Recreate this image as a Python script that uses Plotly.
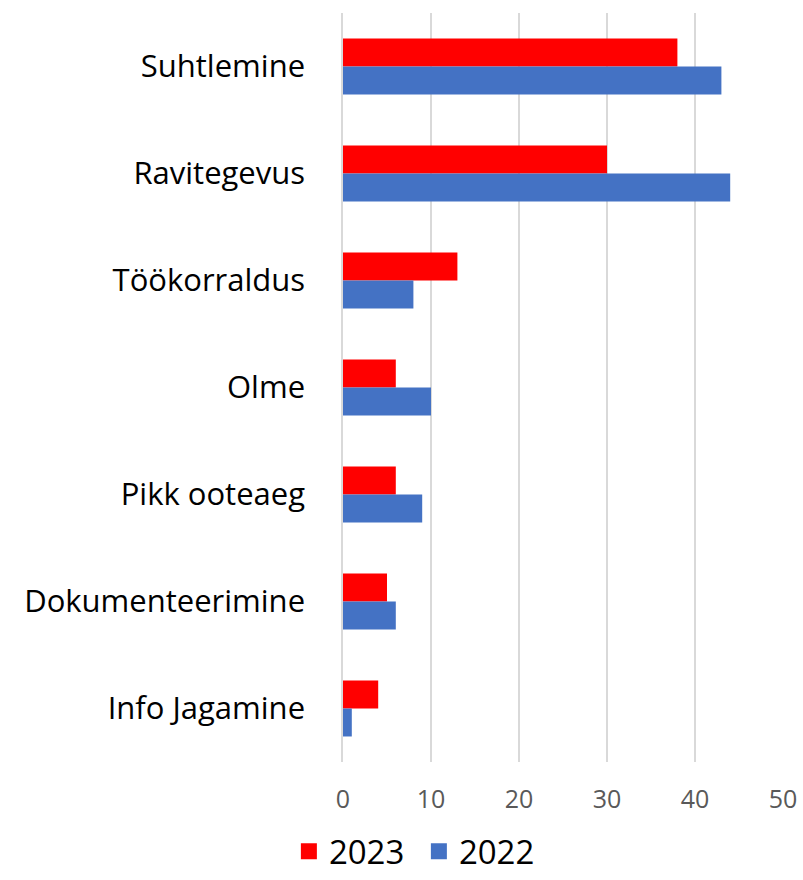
import plotly.graph_objects as go

categories = ["Suhtlemine", "Ravitegevus", "Töökorraldus", "Olme", "Pikk ooteaeg", "Dokumenteerimine", "Info Jagamine"]
values_2023 = [38, 30, 13, 6, 6, 5, 4]
values_2022 = [43, 44, 8, 10, 9, 6, 1]
tick_vals = [0, 10, 20, 30, 40, 50]

RED = "#FF0000"
BLUE = "#4472C4"
FONT = "Open Sans, sans-serif"

fig = go.Figure()
fig.add_trace(go.Bar(y=categories, x=values_2023, orientation="h", name="2023",
                     marker=dict(color=RED, line=dict(width=0)), showlegend=False))
fig.add_trace(go.Bar(y=categories, x=values_2022, orientation="h", name="2022",
                     marker=dict(color=BLUE, line=dict(width=0)), showlegend=False))
# legend entries
fig.add_trace(go.Scatter(x=[None], y=[None], mode="markers", name="2023",
                         marker=dict(symbol="square", size=20, color=RED)))
fig.add_trace(go.Scatter(x=[None], y=[None], mode="markers", name="2022",
                         marker=dict(symbol="square", size=20, color=BLUE)))

fig.update_layout(
    width=803, height=880,
    margin=dict(l=343, r=20, t=12.5, b=118, autoexpand=False),
    paper_bgcolor="white", plot_bgcolor="white",
    barmode="group", bargap=0.477, bargroupgap=0,
    font=dict(family=FONT, color="#000000"),
    showlegend=True,
    legend=dict(orientation="h", x=-0.123, xanchor="left", y=-0.1567, yanchor="bottom",
                font=dict(size=33, color="#000000"), itemsizing="trace",
                itemwidth=30, tracegroupgap=0, entrywidth=85, entrywidthmode="pixels"),
    xaxis=dict(range=[0, 50], tickvals=tick_vals, showgrid=True, gridcolor="#D9D9D9",
               gridwidth=1.5, zeroline=False, showline=False, ticks="", automargin=False,
               tickfont=dict(size=25, color="#595959"), ticklabelstandoff=20),
    yaxis=dict(categoryorder="array", categoryarray=categories, autorange="reversed",
               showgrid=False, zeroline=False, showline=True, linecolor="#D9D9D9", linewidth=1.5,
               ticks="", automargin=False,
               tickfont=dict(size=31, color="#000000"), ticklabelstandoff=30),
)

fig.write_html("out.html", config={"displayModeBar": False},
               post_script="document.body.style.margin='0';document.body.style.overflow='hidden';")
